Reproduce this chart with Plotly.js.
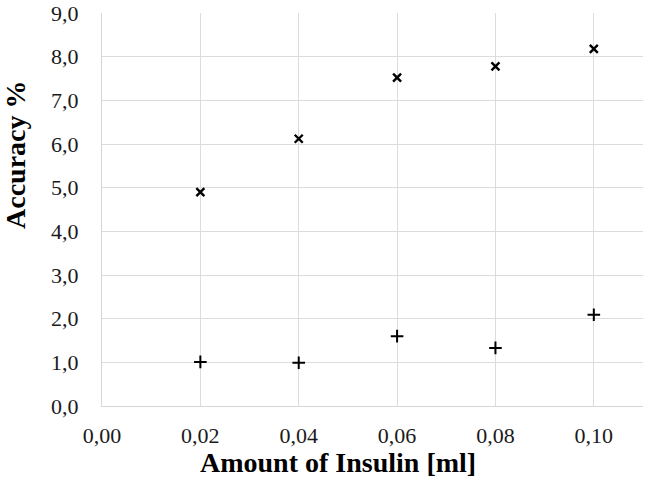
<!DOCTYPE html>
<html>
<head>
<meta charset="utf-8">
<script src="https://cdn.plot.ly/plotly-3.0.1.min.js"></script>
<style>
  html, body { margin: 0; padding: 0; background: #fff; }
  #plot { width: 645px; height: 482px; }
</style>
</head>
<body>
<div id="plot"></div>
<script>
var insulin = [0.02, 0.04, 0.06, 0.08, 0.10];
var accHigh = [4.90, 6.12, 7.52, 7.78, 8.18];
var accLow = [1.01, 0.99, 1.60, 1.33, 2.09];

var serif = 'Liberation Serif, Times New Roman, serif';

var highTrace = {
  x: insulin,
  y: accHigh,
  mode: 'markers',
  type: 'scatter',
  marker: { symbol: 'x-thin-open', size: 8, color: '#000', line: { color: '#000', width: 2.4 } },
  showlegend: false
};
var lowTrace = {
  x: insulin,
  y: accLow,
  mode: 'markers',
  type: 'scatter',
  marker: { symbol: 'cross-thin-open', size: 9, color: '#000', line: { color: '#000', width: 2 } },
  showlegend: false
};

var tickFont = { family: serif, size: 22, color: '#1a1a1a' };

var layout = {
  width: 645,
  height: 482,
  margin: { l: 102, r: 2, t: 13, b: 76 },
  paper_bgcolor: '#fff',
  plot_bgcolor: '#fff',
  separators: ', ',
  font: { family: serif, color: '#1a1a1a', size: 22 },
  xaxis: {
    range: [0, 0.11],
    dtick: 0.02,
    tick0: 0,
    tickformat: '.2f',
    tickfont: tickFont,
    showgrid: true,
    gridcolor: '#dcdcdc',
    gridwidth: 1,
    showline: true,
    linecolor: '#d6d6d6',
    linewidth: 1,
    zeroline: false,
    ticks: '',
    ticklabelstandoff: 10,
    fixedrange: true
  },
  yaxis: {
    range: [0, 9.0001],
    dtick: 1,
    tick0: 0,
    tickformat: '.1f',
    tickfont: tickFont,
    showgrid: true,
    gridcolor: '#dcdcdc',
    gridwidth: 1,
    showline: true,
    linecolor: '#d6d6d6',
    linewidth: 1,
    zeroline: false,
    ticks: '',
    ticklabelstandoff: 18,
    fixedrange: true
  },
  annotations: [
    {
      text: '<b>Amount of Insulin [ml]</b>',
      xref: 'paper', yref: 'paper',
      x: 0.436, y: -0.145,
      xanchor: 'center', yanchor: 'middle',
      showarrow: false,
      font: { family: serif, size: 28, color: '#000' }
    },
    {
      text: '<b>Accuracy %</b>',
      xref: 'paper', yref: 'paper',
      x: -0.161, y: 0.641,
      xanchor: 'center', yanchor: 'middle',
      textangle: -90,
      showarrow: false,
      font: { family: serif, size: 28, color: '#000' }
    }
  ]
};

Plotly.newPlot('plot', [highTrace, lowTrace], layout, { displayModeBar: false, staticPlot: true });
</script>
</body>
</html>
